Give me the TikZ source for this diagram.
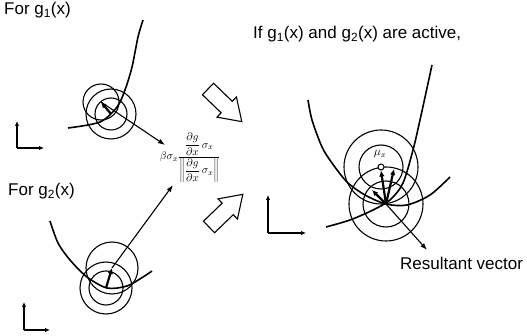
\documentclass[tikz,border=0pt]{standalone}
\usepackage{fontspec}
\setmainfont{Liberation Sans}
\usetikzlibrary{arrows.meta}
\begin{document}
\begin{tikzpicture}[x=1pt,y=-1pt,
  lbl/.style={font=\fontsize{17}{20}\selectfont, inner sep=0pt},
  curve/.style={line width=1.6pt},
  ring/.style={line width=1.1pt},
  vec/.style={line width=2.2pt,-{Latex[length=6pt,width=5.5pt]}},
  thinvec/.style={line width=1.1pt,-{Latex[length=7pt,width=5pt]}},
  axis/.style={line width=1.2pt,-{Latex[length=5pt,width=4.5pt]}},
  block/.style={line width=1.1pt, fill=white, line join=miter}]
\useasboundingbox (0,0) rectangle (527,336);

% texts
\node[lbl, anchor=base west] (t1) at (4,15) {For g\textsubscript{1}(x)};
\node[lbl, anchor=base west] (t2) at (8,196) {For g\textsubscript{2}(x)};
\node[lbl, anchor=base west] (t3) at (253,39) {If g\textsubscript{1}(x) and g\textsubscript{2}(x) are active,};
\node[lbl, anchor=base west] (t4) at (400,270) {Resultant vector};

% ---------- top-left: g1 ----------
\draw[curve] plot[smooth] coordinates {(68,128) (100,122) (117,107) (125,90) (132,67) (138,37) (143,20)};
\coordinate (p1) at (111,114);
\coordinate (q1) at (101,102);
\coordinate (e1) at (165,145);
\draw[ring] (p1) circle (25);
\draw[ring] (p1) circle (16);
\draw[ring] (q1) circle (18);
\draw[thinvec] (q1) -- (e1);
\draw[vec] (p1) -- (q1);
\coordinate (o1) at (17,148);
\coordinate (y1) at (17,121);
\coordinate (x1) at (44,148);
\draw[axis] (o1) -- (y1);
\draw[axis] (o1) -- (x1);

% ---------- bottom-left: g2 ----------
\draw[curve] plot[smooth] coordinates {(50,221) (58,243) (70,260) (87,277) (107,288) (127,286) (143,277) (152,271)};
\coordinate (p2) at (106,288);
\coordinate (q2) at (112,268);
\coordinate (e2) at (173,185);
\draw[ring] (p2) circle (26);
\draw[ring] (p2) circle (17);
\draw[ring] (q2) circle (26);
\draw[thinvec] (q2) -- (e2);
\draw[vec] (p2) -- (q2);
\coordinate (o2) at (24,330);
\coordinate (y2) at (24,302);
\coordinate (x2) at (50,330);
\draw[axis] (o2) -- (y2);
\draw[axis] (o2) -- (x2);

% ---------- formula ----------
\node[font=\fontsize{11}{13}\selectfont, inner sep=0pt] (f) at (190,158)
  {$\displaystyle\beta\sigma_x\frac{\displaystyle\frac{\partial g}{\partial x}\,\sigma_x}{\left\|\displaystyle\frac{\partial g}{\partial x}\,\sigma_x\right\|}$};

% ---------- block arrows ----------
\draw[block, shift={(208,89)}, rotate=-44]
  (0,-8) -- (26,-8) -- (26,-14) -- (47,0) -- (26,14) -- (26,8) -- (0,8) -- cycle;
\draw[block, shift={(209,227)}, rotate=44]
  (0,-8) -- (26,-8) -- (26,-14) -- (47,0) -- (26,14) -- (26,8) -- (0,8) -- cycle;

% ---------- right: both active ----------
\draw[curve] plot[smooth] coordinates {(308,100) (312,120) (322,147) (332,163) (347,182) (365,195) (386,204) (407,205) (430,195) (450,177)};
\draw[curve] plot[smooth] coordinates {(326,227) (350,220) (373,210) (390,200) (403,183) (413,150) (420,120) (432,65)};
\coordinate (O) at (386,204);
\coordinate (mu) at (381,167);
\draw[ring] (mu) circle (22);
\draw[ring] (mu) circle (37);
\draw[ring] (O) circle (23);
\draw[ring] (O) circle (37);
\node[circle, draw, line width=1pt, fill=white, minimum size=6pt, inner sep=0pt] (m) at (mu) {};
\node[font=\fontsize{12}{14}\selectfont, inner sep=1pt] (ml) at (380,154) {$\mu_x$};
\coordinate (a2) at (394,169);
\coordinate (a3) at (372,190);
\coordinate (r) at (427,250);
\draw[vec] (O) -- (m.south);
\draw[vec] (O) -- (a2);
\draw[vec] (O) -- (a3);
\draw[thinvec] (O) -- (r);
\coordinate (o3) at (268,233);
\coordinate (y3) at (268,195);
\coordinate (x3) at (306,233);
\draw[axis] (o3) -- (y3);
\draw[axis] (o3) -- (x3);
\end{tikzpicture}
\end{document}
